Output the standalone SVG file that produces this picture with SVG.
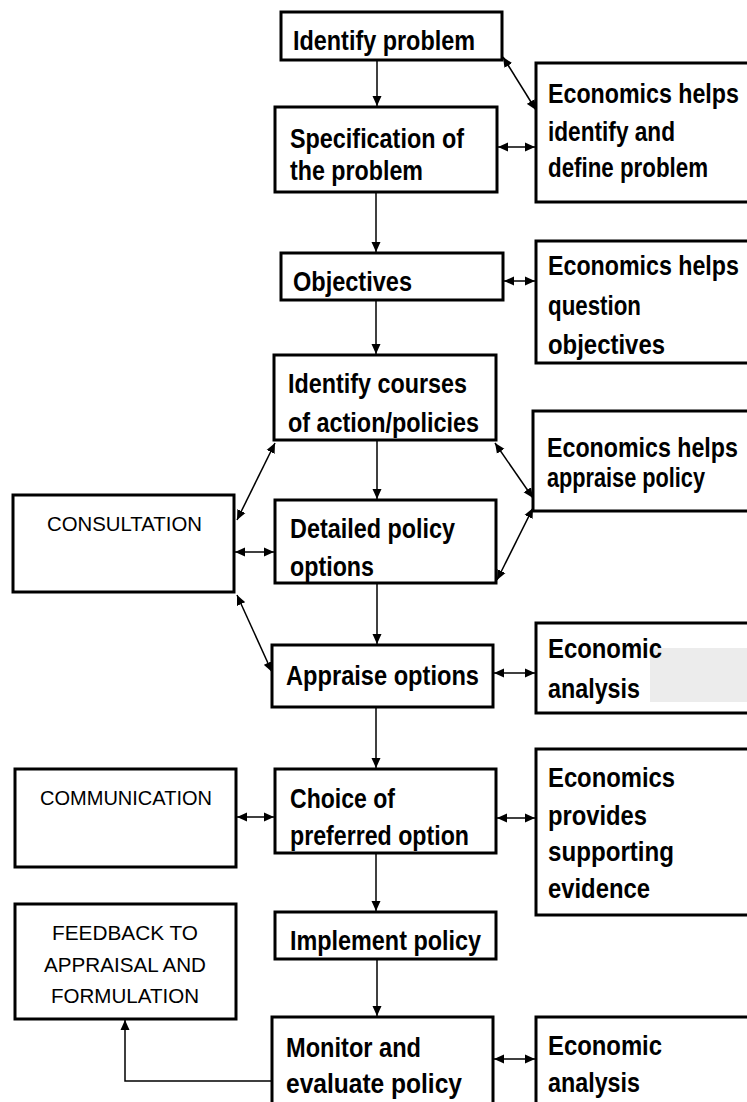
<svg xmlns="http://www.w3.org/2000/svg" width="747" height="1102" viewBox="0 0 747 1102">
<style>
.box{fill:#fff;stroke:#000;stroke-width:3}
.t{font-family:"Liberation Sans Narrow","Liberation Sans",Arial,sans-serif;font-weight:bold;font-size:27px;fill:#000}
.c{font-family:"Liberation Sans Narrow","Liberation Sans",Arial,sans-serif;font-size:21px;fill:#000}
.ln{fill:none;stroke:#000;stroke-width:1.5}
</style>
<defs>
<marker id="ah" markerUnits="userSpaceOnUse" markerWidth="10" markerHeight="10" viewBox="0 0 10 10" refX="10" refY="5" orient="auto-start-reverse">
<path d="M0,0.5 L10,5 L0,9.5 Z" fill="#000"/>
</marker>
</defs>
<rect width="747" height="1102" fill="#fff"/>

<g id="n-identify"><rect class="box" x="281" y="12" width="221" height="48"/><text class="t" x="293" y="50" textLength="182" lengthAdjust="spacingAndGlyphs">Identify problem</text></g>
<g id="n-spec"><rect class="box" x="275" y="107" width="222" height="85"/><text class="t" x="290" y="148" textLength="174" lengthAdjust="spacingAndGlyphs">Specification of</text><text class="t" x="290" y="180" textLength="133" lengthAdjust="spacingAndGlyphs">the problem</text></g>
<g id="n-econ1"><rect class="box" x="536" y="63" width="215" height="139"/><text class="t" transform="translate(548,103) scale(0.86,1)">Economics helps</text><text class="t" x="548" y="141" textLength="127" lengthAdjust="spacingAndGlyphs">identify and</text><text class="t" x="548" y="177" textLength="160" lengthAdjust="spacingAndGlyphs">define problem</text></g>
<g id="n-objectives"><rect class="box" x="281" y="253" width="222" height="47"/><text class="t" x="293" y="291" textLength="119" lengthAdjust="spacingAndGlyphs">Objectives</text></g>
<g id="n-econ2"><rect class="box" x="536" y="241" width="215" height="122"/><text class="t" transform="translate(548,275) scale(0.86,1)">Economics helps</text><text class="t" x="548" y="315" textLength="93" lengthAdjust="spacingAndGlyphs">question</text><text class="t" x="548" y="354" textLength="117" lengthAdjust="spacingAndGlyphs">objectives</text></g>
<g id="n-courses"><rect class="box" x="274" y="355" width="222" height="85"/><text class="t" x="288" y="393" textLength="179" lengthAdjust="spacingAndGlyphs">Identify courses</text><text class="t" x="288" y="432" textLength="191" lengthAdjust="spacingAndGlyphs">of action/policies</text></g>
<g id="n-econ3"><rect class="box" x="533" y="411" width="218" height="100"/><text class="t" transform="translate(547,457) scale(0.86,1)">Economics helps</text><text class="t" x="547" y="487" textLength="158" lengthAdjust="spacingAndGlyphs">appraise policy</text></g>
<g id="n-consult"><rect class="box" x="13" y="495" width="221" height="97"/><text class="c" x="47" y="531" textLength="155" lengthAdjust="spacingAndGlyphs">CONSULTATION</text></g>
<g id="n-detailed"><rect class="box" x="275" y="500" width="221" height="83"/><text class="t" x="290" y="538" textLength="165" lengthAdjust="spacingAndGlyphs">Detailed policy</text><text class="t" x="290" y="576" textLength="84" lengthAdjust="spacingAndGlyphs">options</text></g>
<g id="n-appraise"><rect class="box" x="272" y="645" width="221" height="62"/><text class="t" x="286" y="685" textLength="193" lengthAdjust="spacingAndGlyphs">Appraise options</text></g>
<g id="n-econ4"><rect class="box" x="536" y="623" width="215" height="90"/><rect x="650" y="648" width="97" height="54" fill="#ececec"/><text class="t" x="548" y="658" textLength="114" lengthAdjust="spacingAndGlyphs">Economic</text><text class="t" x="548" y="698" textLength="92" lengthAdjust="spacingAndGlyphs">analysis</text></g>
<g id="n-comm"><rect class="box" x="15" y="769" width="221" height="98"/><text class="c" x="40" y="805" textLength="172" lengthAdjust="spacingAndGlyphs">COMMUNICATION</text></g>
<g id="n-choice"><rect class="box" x="275" y="769" width="221" height="84"/><text class="t" x="290" y="808" textLength="105" lengthAdjust="spacingAndGlyphs">Choice of</text><text class="t" x="290" y="845" textLength="179" lengthAdjust="spacingAndGlyphs">preferred option</text></g>
<g id="n-econ5"><rect class="box" x="536" y="749" width="215" height="166"/><text class="t" x="548" y="787" textLength="127" lengthAdjust="spacingAndGlyphs">Economics</text><text class="t" x="548" y="825" textLength="99" lengthAdjust="spacingAndGlyphs">provides</text><text class="t" x="548" y="861" textLength="126" lengthAdjust="spacingAndGlyphs">supporting</text><text class="t" x="548" y="898" textLength="102" lengthAdjust="spacingAndGlyphs">evidence</text></g>
<g id="n-feedback"><rect class="box" x="15" y="904" width="221" height="115"/><text class="c" x="52" y="940" textLength="146" lengthAdjust="spacingAndGlyphs">FEEDBACK TO</text><text class="c" x="44" y="972" textLength="162" lengthAdjust="spacingAndGlyphs">APPRAISAL AND</text><text class="c" x="51" y="1003" textLength="148" lengthAdjust="spacingAndGlyphs">FORMULATION</text></g>
<g id="n-implement"><rect class="box" x="275" y="912" width="221" height="47"/><text class="t" x="290" y="950" textLength="191" lengthAdjust="spacingAndGlyphs">Implement policy</text></g>
<g id="n-monitor"><rect class="box" x="272" y="1017" width="221" height="92"/><text class="t" x="286" y="1057" textLength="135" lengthAdjust="spacingAndGlyphs">Monitor and</text><text class="t" x="286" y="1093" textLength="176" lengthAdjust="spacingAndGlyphs">evaluate  policy</text></g>
<g id="n-econ6"><rect class="box" x="536" y="1017" width="215" height="92"/><text class="t" x="548" y="1055" textLength="114" lengthAdjust="spacingAndGlyphs">Economic</text><text class="t" x="548" y="1092" textLength="92" lengthAdjust="spacingAndGlyphs">analysis</text></g>

<g id="connectors">
<line class="ln" x1="377" y1="61" x2="377" y2="106" marker-end="url(#ah)"/>
<line class="ln" x1="503" y1="57" x2="536" y2="110" marker-start="url(#ah)" marker-end="url(#ah)"/>
<line class="ln" x1="498" y1="147" x2="535" y2="147" marker-start="url(#ah)" marker-end="url(#ah)"/>
<line class="ln" x1="376" y1="193" x2="376" y2="252" marker-end="url(#ah)"/>
<line class="ln" x1="504" y1="281" x2="535" y2="281" marker-start="url(#ah)" marker-end="url(#ah)"/>
<line class="ln" x1="376" y1="301" x2="376" y2="354" marker-end="url(#ah)"/>
<line class="ln" x1="377" y1="441" x2="377" y2="499" marker-end="url(#ah)"/>
<line class="ln" x1="237" y1="520" x2="275" y2="443" marker-start="url(#ah)" marker-end="url(#ah)"/>
<line class="ln" x1="235" y1="552" x2="274" y2="552" marker-start="url(#ah)" marker-end="url(#ah)"/>
<line class="ln" x1="495" y1="443" x2="533" y2="498" marker-start="url(#ah)" marker-end="url(#ah)"/>
<line class="ln" x1="533" y1="508" x2="497" y2="580" marker-start="url(#ah)" marker-end="url(#ah)"/>
<line class="ln" x1="237" y1="595" x2="272" y2="672" marker-start="url(#ah)" marker-end="url(#ah)"/>
<line class="ln" x1="377" y1="584" x2="377" y2="644" marker-end="url(#ah)"/>
<line class="ln" x1="494" y1="673" x2="535" y2="673" marker-start="url(#ah)" marker-end="url(#ah)"/>
<line class="ln" x1="376" y1="708" x2="376" y2="768" marker-end="url(#ah)"/>
<line class="ln" x1="237" y1="817" x2="274" y2="817" marker-start="url(#ah)" marker-end="url(#ah)"/>
<line class="ln" x1="497" y1="818" x2="535" y2="818" marker-start="url(#ah)" marker-end="url(#ah)"/>
<line class="ln" x1="376" y1="854" x2="376" y2="911" marker-end="url(#ah)"/>
<line class="ln" x1="377" y1="960" x2="377" y2="1016" marker-end="url(#ah)"/>
<line class="ln" x1="494" y1="1059" x2="535" y2="1059" marker-start="url(#ah)" marker-end="url(#ah)"/>
<polyline class="ln" points="271,1081 125,1081 125,1020" marker-end="url(#ah)"/>
</g>
</svg>
